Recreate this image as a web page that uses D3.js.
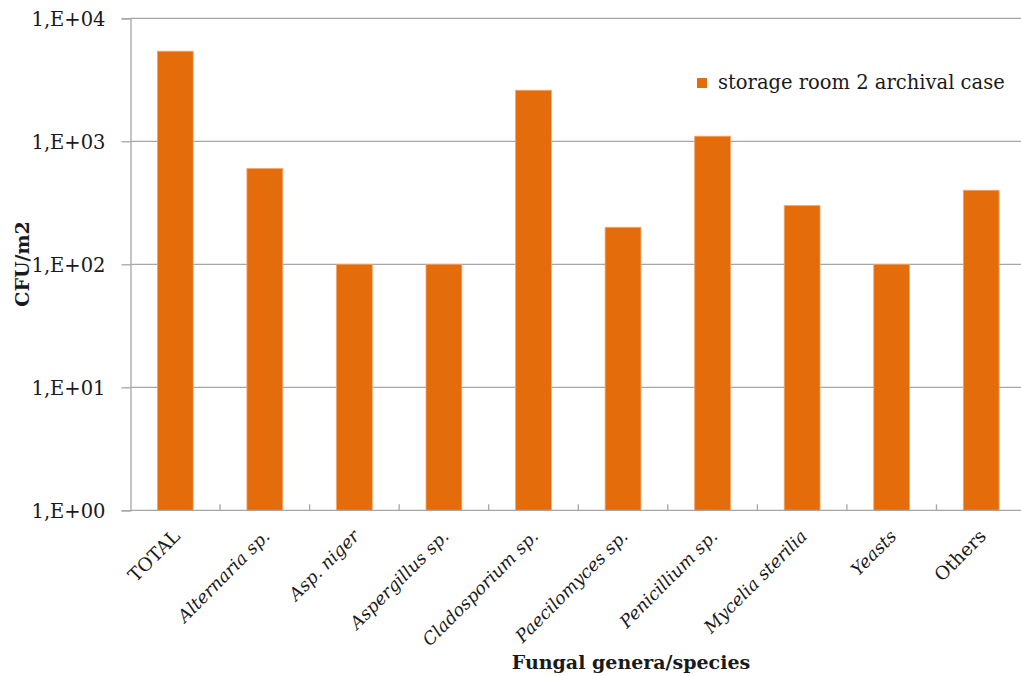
<!DOCTYPE html>
<html>
<head>
<meta charset="utf-8">
<script src="https://cdn.jsdelivr.net/npm/d3@7"></script>
<style>
  html, body { margin: 0; padding: 0; background: #fff; }
  svg { display: block; }
  text { font-family: "DejaVu Serif", serif; fill: #1a1a1a; }
</style>
</head>
<body>
<svg id="chart" width="1021" height="676"></svg>
<script>
// Fungal counts (CFU/m2) per genus/species
const categories = ["TOTAL", "Alternaria sp.", "Asp. niger", "Aspergillus sp.", "Cladosporium sp.",
  "Paecilomyces sp.", "Penicillium sp.", "Mycelia sterilia", "Yeasts", "Others"];
const italicLabels = [false, true, true, true, true, true, true, true, true, false];
const values = [5400, 600, 100, 100, 2600, 200, 1100, 300, 100, 400];
const seriesName = "storage room 2 archival case";
const yTicks = [1, 10, 100, 1000, 10000];
const yTickLabels = ["1,E+00", "1,E+01", "1,E+02", "1,E+03", "1,E+04"];

const svg = d3.select("#chart");
const plotLeft = 130.5, plotRight = 1026, plotTop = 18.3, plotBottom = 510.3;
const barColor = "#E46C0A";
const gridColor = "#a6a6a6";
const fontSize = 19.5;

const x = d3.scaleBand().domain(categories).range([plotLeft, plotRight]).paddingInner(0.6).paddingOuter(0.3);
const y = d3.scaleLog().domain([1, 10000]).range([plotBottom, plotTop]);

// horizontal gridlines
svg.append("g").selectAll("line").data(yTicks.slice(1)).join("line")
  .attr("x1", plotLeft).attr("x2", 1021)
  .attr("y1", d => y(d)).attr("y2", d => y(d))
  .attr("stroke", gridColor).attr("stroke-width", 1.3);

// bars
svg.append("g").selectAll("rect").data(values).join("rect")
  .attr("x", (d, i) => x(categories[i]))
  .attr("width", x.bandwidth())
  .attr("y", d => y(d))
  .attr("height", d => y(1) - y(d))
  .attr("fill", barColor)
  .attr("stroke", "#f2a66b").attr("stroke-width", 0.8);

// y axis
const yAxis = d3.axisLeft(y).tickValues(yTicks)
  .tickFormat((d, i) => yTickLabels[i]).tickSize(9).tickPadding(16);
const gy = svg.append("g").attr("transform", `translate(${plotLeft},0)`).call(yAxis);
gy.select(".domain").attr("stroke", gridColor).attr("stroke-width", 1.3);
gy.selectAll(".tick line").attr("stroke", gridColor).attr("stroke-width", 1.3);
gy.selectAll(".tick text").attr("font-family", "DejaVu Serif").attr("font-size", fontSize)
  .attr("fill", "#1a1a1a").attr("dy", "0.36em");

// x axis line with boundary ticks between categories
svg.append("line").attr("x1", plotLeft).attr("x2", 1021).attr("y1", plotBottom).attr("y2", plotBottom)
  .attr("stroke", gridColor).attr("stroke-width", 1.3);
const gap = (x.step() - x.bandwidth()) / 2;
svg.append("g").selectAll("line").data(categories.slice(1)).join("line")
  .attr("x1", d => x(d) - gap).attr("x2", d => x(d) - gap)
  .attr("y1", plotBottom).attr("y2", plotBottom - 6)
  .attr("stroke", gridColor).attr("stroke-width", 1.3);

// category labels, rotated
svg.append("g").selectAll("text").data(categories).join("text")
  .attr("transform", d => `translate(${x(d) + x.bandwidth() / 2 + 6},${plotBottom + 27}) rotate(-45)`)
  .attr("text-anchor", "end")
  .attr("font-size", (d, i) => italicLabels[i] ? 17.5 : 18.5)
  .attr("font-style", (d, i) => italicLabels[i] ? "italic" : "normal")
  .text(d => d);

// axis titles
svg.append("text").attr("transform", `translate(29,264) rotate(-90)`)
  .attr("text-anchor", "middle").attr("font-size", 19).attr("font-weight", "bold")
  .text("CFU/m2");
svg.append("text").attr("x", 631).attr("y", 669)
  .attr("text-anchor", "middle").attr("font-size", 19).attr("font-weight", "bold")
  .text("Fungal genera/species");

// legend
const lg = svg.append("g").attr("transform", "translate(697,78)");
lg.append("rect").attr("width", 10).attr("height", 10).attr("fill", barColor);
lg.append("text").attr("x", 21).attr("y", 10.5).attr("font-size", fontSize).text(seriesName);
</script>
</body>
</html>
